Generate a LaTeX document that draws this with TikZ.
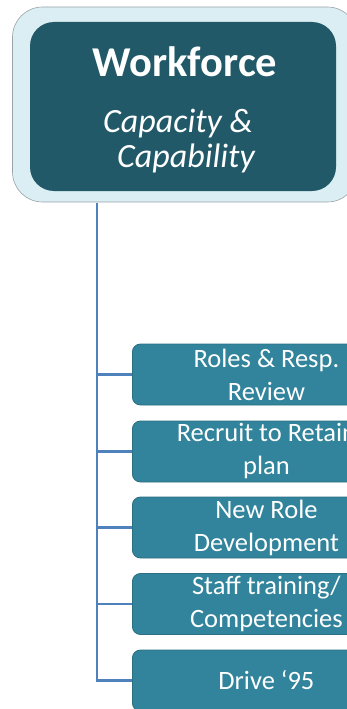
\documentclass[tikz,border=0pt]{standalone}
\usepackage{fontspec}
\setmainfont{Carlito}
\definecolor{outerfill}{HTML}{DAEEF3}
\definecolor{outerdraw}{HTML}{9AA3A8}
\definecolor{headfill}{HTML}{215968}
\definecolor{kidfill}{HTML}{31849B}
\definecolor{kiddraw}{HTML}{2A6F82}
\definecolor{linkcol}{HTML}{4F81BD}
\tikzset{
  kid/.style={draw=kiddraw, line width=0.8pt, fill=kidfill, rounded corners=8pt,
    minimum width=268pt, minimum height=61pt, inner sep=0pt, anchor=west,
    text=white, align=center, font=\fontsize{26.5}{33}\selectfont},
  link/.style={draw=linkcol, line width=2.2pt},
  headtxt/.style={text=white, anchor=base, inner sep=0pt}
}
\begin{document}
\begin{tikzpicture}[x=1pt,y=-1pt]
\useasboundingbox (0,0) rectangle (347,709);
\begin{scope}
\clip (0,0) rectangle (347,709);
\node[draw=outerdraw, line width=0.6pt, fill=outerfill, rounded corners=30pt,
  minimum width=345pt, minimum height=195pt, inner sep=0pt] (outer) at (185,104.5) {};
\node[fill=headfill, rounded corners=24pt, minimum width=306pt, minimum height=169pt,
  inner sep=0pt] (head) at (183,106.5) {};
\node[headtxt, font=\fontsize{42.5}{42}\selectfont\bfseries] (t1) at (185,77) {Workforce};
\node[headtxt, font=\fontsize{34}{34}\selectfont\itshape] (t2) at (178,132) {Capacity \&};
\node[headtxt, font=\fontsize{34}{34}\selectfont\itshape] (t3) at (186,167) {Capability};
\coordinate (trunk) at (97,203);
\node[kid] (k1) at (132,374.5) {Roles \& Resp.\\Review};
\node[kid] (k2) at (132,451.5) {Recruit to Retain\\plan};
\node[kid] (k3) at (132,527.5) {New Role\\Development};
\node[kid] (k4) at (132,604) {Staff training/\\Competencies};
\node[kid] (k5) at (132,680.5) {Drive ‘95};
\foreach \k in {k1,k2,k3,k4,k5}
  \draw[link] (trunk) |- (\k.west);
\end{scope}
\end{tikzpicture}
\end{document}
